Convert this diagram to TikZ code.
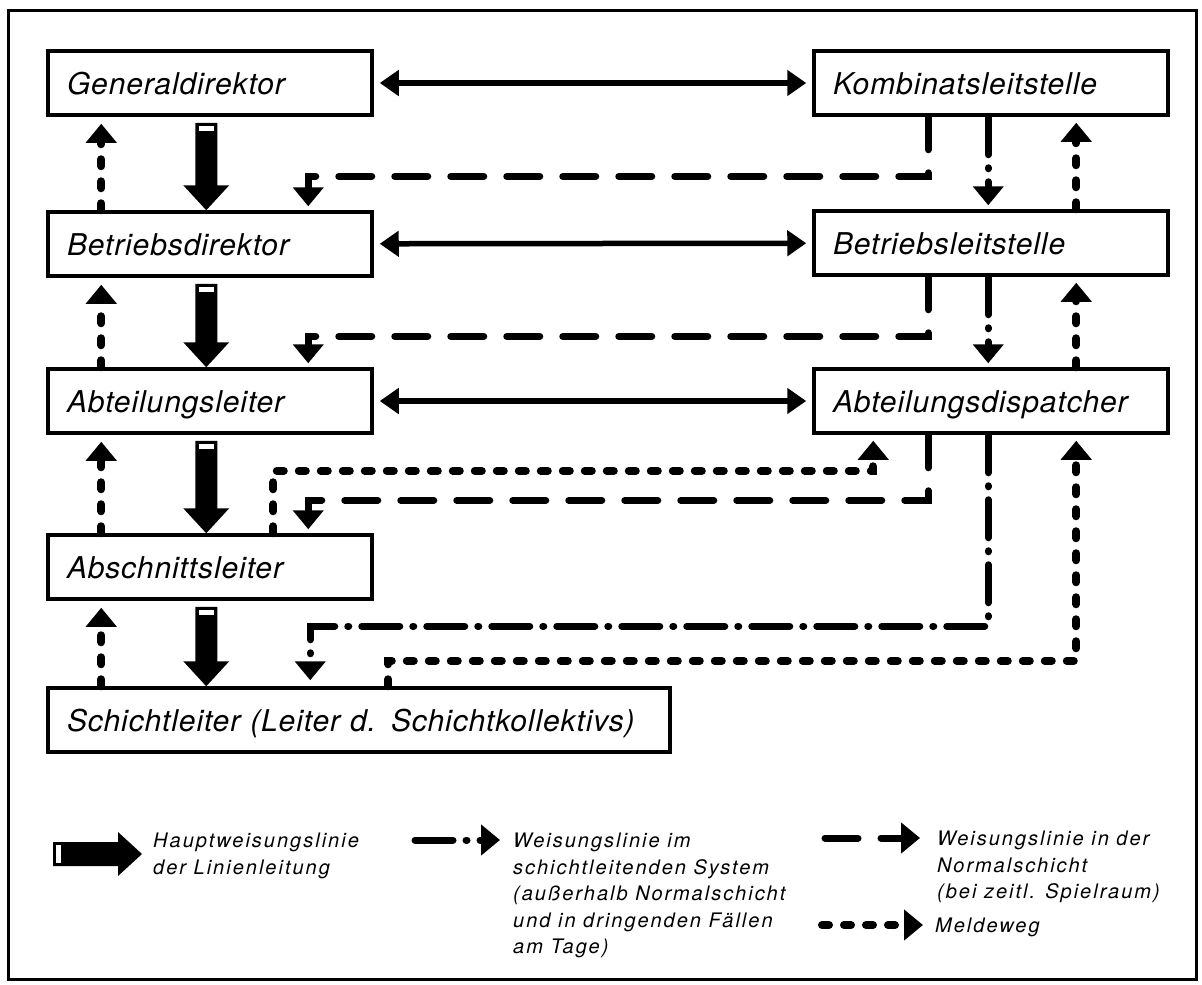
\documentclass[tikz,border=0pt]{standalone}
\usepackage{fontspec}
\setmainfont{TeX Gyre Heros}
\newfontfamily\boxfont[LetterSpace=3]{TeX Gyre Heros}
\newfontfamily\legfont[LetterSpace=10]{TeX Gyre Heros}
\usetikzlibrary{arrows.meta,calc}
\newcommand\bigdown[2]{%
  \fill let \p1=($(#1.south west)+(160pt,-6pt)$), \p2=($(#2.north west)+(160pt,0pt)$) in
   (\x1-11pt,\y1) -- (\x1+11pt,\y1) -- (\x1+11pt,\y2+25pt) -- (\x1+23pt,\y2+25pt)
   -- (\x1,\y2) -- (\x1-23pt,\y2+25pt) -- (\x1-11pt,\y2+25pt) -- cycle;
  \fill[white] let \p1=($(#1.south west)+(160pt,-6pt)$) in
   (\x1-7.5pt,\y1-3pt) rectangle (\x1+7.5pt,\y1-8pt);
}
\begin{document}
\begin{tikzpicture}[x=1pt,y=-1pt,
  box/.style={draw, line width=3.5pt, rectangle, minimum height=64pt,
    inner xsep=19pt, inner ysep=0pt, text width=#1, align=left,
    text height=25pt, text depth=3pt,
    font=\boxfont\itshape\fontsize{30}{36}\selectfont},
  legtext/.style={anchor=north west, inner sep=0pt, align=left,
    font=\legfont\itshape\fontsize{20}{26.5}\selectfont},
  tip/.style={-{Triangle[length=19pt,width=30pt]}},
  hline/.style={line width=5.5pt, {Triangle[length=19pt,width=25pt]}-{Triangle[length=19pt,width=25pt]},
    shorten <=6pt, shorten >=6pt},
  nline/.style={line width=7pt, line cap=round, dash pattern=on 33pt off 23pt, tip},
  sline/.style={line width=7pt, line cap=round, dash pattern=on 38pt off 13pt on 1pt off 13pt, tip},
  mline/.style={line width=8pt, line cap=round, dash pattern=on 7pt off 15pt, tip},
]
\useasboundingbox (0,0) rectangle (1202,985);
\draw[line width=3pt] (8,10) rectangle (1196,979);

% boxes
\node[box=286pt] (gd) at (210,83) {Generaldirektor};
\node[box=316pt] (kl) at (991,83) {Kombinatsleitstelle};
\node[box=286pt] (bd) at (210,244) {Betriebsdirektor};
\node[box=316pt] (bl) at (991,243) {Betriebsleitstelle};
\node[box=286pt] (al) at (210,401) {Abteilungsleiter};
\node[box=316pt] (ad) at (991,401) {Abteilungsdispatcher};
\node[box=286pt] (as) at (210,567) {Abschnittsleiter};
\node[box=584pt] (sl) at (359,720) {Schichtleiter (Leiter d. Schichtkollektivs)};

% horizontal double arrows
\draw[hline] (gd) -- (kl);
\draw[hline] (bd) -- (bl);
\draw[hline] (al) -- (ad);

% main line arrows
\bigdown{gd}{bd}
\bigdown{bd}{al}
\bigdown{al}{as}
\bigdown{as}{sl}

% left Meldeweg
\draw[mline, shorten >=7pt] ($(bd.north west)+(55pt,0)$) -- ($(gd.south west)+(55pt,0)$);
\draw[mline, shorten >=7pt] ($(al.north west)+(55pt,0)$) -- ($(bd.south west)+(55pt,0)$);
\draw[mline, shorten >=7pt] ($(as.north west)+(55pt,0)$) -- ($(al.south west)+(55pt,0)$);
\draw[mline, shorten >=7pt] ($(sl.north west)+(55pt,0)$) -- ($(as.south west)+(55pt,0)$);

% right column
\draw[sline, shorten >=4pt] ($(kl.south west)+(176pt,0)$) -- ($(bl.north west)+(176pt,0)$);
\draw[sline, shorten >=4pt] ($(bl.south west)+(176pt,0)$) -- ($(ad.north west)+(176pt,0)$);
\draw[mline, shorten >=6pt] ($(bl.north west)+(264pt,0)$) -- ($(kl.south west)+(264pt,0)$);
\draw[mline, shorten >=6pt] ($(ad.north west)+(264pt,0)$) -- ($(bl.south west)+(264pt,0)$);

% Normalschicht dashed
\draw[nline, shorten >=4pt] ($(kl.south west)+(116pt,0)$) |- ($(bd.north west)+(262pt,34pt)$) -- ($(bd.north west)+(262pt,0)$);
\draw[nline, shorten >=4pt] ($(bl.south west)+(116pt,0)$) |- ($(al.north west)+(262pt,31pt)$) -- ($(al.north west)+(262pt,0)$);
\draw[nline, shorten >=4pt] ($(ad.south west)+(116pt,0)$) |- ($(as.north west)+(262pt,33pt)$) -- ($(as.north west)+(262pt,0)$);

% Meldeweg Abschnittsleiter -> Abteilungsdispatcher
\draw[mline, shorten >=6pt] ($(as.north west)+(227pt,0)$) |- ($(ad.south west)+(61pt,-36pt)$) -- ($(ad.south west)+(61pt,0)$);
% schichtleitend Abteilungsdispatcher -> Schichtleiter
\draw[sline, shorten >=6pt] ($(ad.south west)+(176pt,0)$) |- ($(sl.north west)+(264pt,60pt)$) -- ($(sl.north west)+(264pt,0)$);
% Meldeweg Schichtleiter -> Abteilungsdispatcher
\draw[mline, shorten >=6pt] ($(sl.north west)+(342pt,0)$) |- ($(ad.south west)+(264pt,-226pt)$) -- ($(ad.south west)+(264pt,0)$);

% legend
\fill (53,842) -- (118,842) -- (118,832) -- (142,854) -- (118,876) -- (118,866) -- (53,866) -- cycle;
\fill[white] (56,845) rectangle (61,863);
\node[legtext] (t1) at (153,833) {Hauptweisungslinie\\der Linienleitung};

\coordinate (s1) at (415,840); \coordinate (s2) at (500,840);
\draw[sline] (s1) -- (s2);
\node[legtext] (t2) at (513,833) {Weisungslinie im\\schichtleitenden System\\(außerhalb Normalschicht\\und in dringenden Fällen\\am Tage)};

\coordinate (n1) at (825,838); \coordinate (n2) at (920,838);
\draw[nline] (n1) -- (n2);
\node[legtext] (t3) at (937,831) {Weisungslinie in der\\Normalschicht\\(bei zeitl. Spielraum)};

\coordinate (m1) at (822,925); \coordinate (m2) at (923,925);
\draw[mline] (m1) -- (m2);
\node[legtext] (t4) at (935,918) {Meldeweg};
\end{tikzpicture}
\end{document}
